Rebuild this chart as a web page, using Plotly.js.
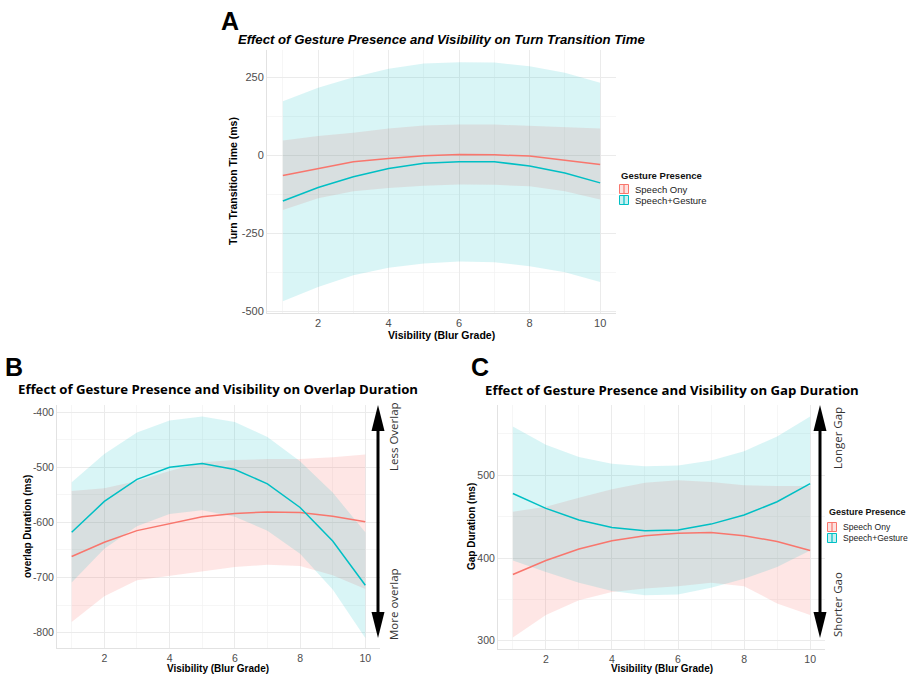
<!DOCTYPE html>
<html>
<head>
<meta charset="utf-8">
<script src="https://cdn.plot.ly/plotly-3.0.1.min.js"></script>
<style>
  html, body { margin: 0; padding: 0; background: #ffffff; }
  #chart { width: 912px; height: 675px; }
</style>
</head>
<body>
<div id="chart"></div>
<script>
// ---------------- DATA ----------------
const visibility = [1, 2, 3, 4, 5, 6, 7, 8, 9, 10];
const xTickVals = [2, 4, 6, 8, 10];
const groupNames = ["Speech Ony", "Speech+Gesture"];
const legendTitle = "Gesture Presence";

// Panel A: Turn Transition Time (ms)
const aSpeechMean = [-64, -42, -20, -10, -1, 3, 2, -2, -15, -29];
const aSpeechHigh = [48, 62, 73, 86, 96, 99, 99, 94, 90, 86];
const aSpeechLow  = [-175, -137, -115, -104, -97, -93, -94, -99, -115, -141];
const aGestMean   = [-146, -103, -68, -42, -25, -20, -20, -34, -56, -88];
const aGestHigh   = [174, 217, 251, 278, 295, 299, 298, 286, 265, 233];
const aGestLow    = [-467, -422, -384, -360, -346, -340, -342, -355, -374, -406];
const aYTicks     = [250, 0, -250, -500];

// Panel B: Overlap Duration (ms)
const bSpeechMean = [-662, -636, -615, -602, -590, -584, -581, -582, -589, -599];
const bSpeechHigh = [-543, -538, -525, -507, -491, -487, -485, -485, -482, -477];
const bSpeechLow  = [-781, -734, -705, -697, -689, -681, -677, -679, -696, -721];
const bGestMean   = [-618, -562, -522, -500, -493, -504, -530, -573, -634, -714];
const bGestHigh   = [-527, -476, -437, -415, -408, -418, -445, -489, -546, -618];
const bGestLow    = [-709, -648, -607, -585, -578, -590, -615, -657, -722, -810];
const bYTicks     = [-400, -500, -600, -700, -800];

// Panel C: Gap Duration (ms)
const cSpeechMean = [380, 397, 411, 421, 427, 430, 431, 427, 420, 409];
const cSpeechHigh = [456, 462, 473, 483, 491, 494, 492, 488, 487, 487];
const cSpeechLow  = [304, 331, 349, 359, 363, 366, 370, 366, 345, 331];
const cGestMean   = [478, 460, 446, 437, 433, 434, 441, 452, 468, 490];
const cGestHigh   = [559, 537, 522, 514, 511, 512, 518, 529, 547, 571];
const cGestLow    = [397, 383, 370, 360, 355, 356, 364, 375, 389, 409];
const cYTicks     = [300, 400, 500];

// ---------------- STYLE ----------------
const RED = "#F8766D", TEAL = "#00BFC4";
const RED_FILL = "rgba(248,118,109,0.18)", TEAL_FILL = "rgba(0,191,196,0.15)";
const groupColors = [RED, TEAL];
const groupKeyFills = ["rgba(248,118,109,0.22)", "rgba(0,191,196,0.22)"];
const W = 912, H = 675;
const px = x => x / W;
const py = y => 1 - y / H;

function band(name, xs, lo, hi, fill, xa, ya) {
  return {
    type: "scatter", mode: "lines", name: name,
    x: xs.concat(xs.slice().reverse()),
    y: hi.concat(lo.slice().reverse()),
    fill: "toself", fillcolor: fill,
    line: { width: 0 }, hoverinfo: "skip", showlegend: false,
    xaxis: xa, yaxis: ya
  };
}
function meanLine(name, xs, ys, color, xa, ya) {
  return {
    type: "scatter", mode: "lines", name: name, x: xs, y: ys,
    line: { color: color, width: 1.5 }, showlegend: false,
    xaxis: xa, yaxis: ya
  };
}

const traces = [
  band(groupNames[0], visibility, aSpeechLow, aSpeechHigh, RED_FILL, "x", "y"),
  band(groupNames[1], visibility, aGestLow, aGestHigh, TEAL_FILL, "x", "y"),
  meanLine(groupNames[0], visibility, aSpeechMean, RED, "x", "y"),
  meanLine(groupNames[1], visibility, aGestMean, TEAL, "x", "y"),

  band(groupNames[0], visibility, bSpeechLow, bSpeechHigh, RED_FILL, "x2", "y2"),
  band(groupNames[1], visibility, bGestLow, bGestHigh, TEAL_FILL, "x2", "y2"),
  meanLine(groupNames[0], visibility, bSpeechMean, RED, "x2", "y2"),
  meanLine(groupNames[1], visibility, bGestMean, TEAL, "x2", "y2"),

  band(groupNames[0], visibility, cSpeechLow, cSpeechHigh, RED_FILL, "x3", "y3"),
  band(groupNames[1], visibility, cGestLow, cGestHigh, TEAL_FILL, "x3", "y3"),
  meanLine(groupNames[0], visibility, cSpeechMean, RED, "x3", "y3"),
  meanLine(groupNames[1], visibility, cGestMean, TEAL, "x3", "y3")
];

const TICKFONT = { family: "Liberation Sans, Arial, sans-serif", size: 11, color: "#4d4d4d" };
function xAxis(domain, anchor, fontSize) {
  return {
    domain: domain, anchor: anchor, range: [0.55, 10.45],
    tickmode: "array", tickvals: xTickVals, ticktext: xTickVals.map(String),
    showgrid: true, gridcolor: "#ebebeb", gridwidth: 1,
    minor: { dtick: 1, tick0: 0, showgrid: true, gridcolor: "#f2f2f2", gridwidth: 0.7 },
    showline: true, linecolor: "#e2e2e2", linewidth: 1,
    zeroline: false, ticks: "", automargin: false,
    tickfont: Object.assign({}, TICKFONT, { size: fontSize }), fixedrange: true
  };
}
function yAxis(domain, anchor, range, ticks, minorStep, fontSize) {
  return {
    domain: domain, anchor: anchor, range: range,
    tickmode: "array", tickvals: ticks, ticktext: ticks.map(String),
    showgrid: true, gridcolor: "#ebebeb", gridwidth: 1,
    minor: { dtick: minorStep, tick0: 0, showgrid: true, gridcolor: "#f2f2f2", gridwidth: 0.7 },
    showline: true, linecolor: "#e2e2e2", linewidth: 1,
    zeroline: false, ticks: "", automargin: false,
    tickfont: Object.assign({}, TICKFONT, { size: fontSize }), fixedrange: true
  };
}

const AX_TITLE = { family: "Liberation Sans, Arial, sans-serif", size: 10.5, color: "#000000" };
const PANEL_TITLE = { family: "Open Sans, sans-serif", size: 13.2, color: "#000000" };
const SIDE_TEXT = { family: "Open Sans, sans-serif", size: 11.5, color: "#333333" };
const LETTER = { family: "Liberation Sans, Arial, sans-serif", size: 25, color: "#000000" };

function ann(text, x, y, font, extra) {
  return Object.assign({
    text: text, x: px(x), y: py(y), xref: "paper", yref: "paper",
    showarrow: false, xanchor: "center", yanchor: "middle", font: font
  }, extra || {});
}

const annotations = [
  ann("<b>A</b>", 230, 21, LETTER),
  ann("<b>B</b>", 14, 367, LETTER),
  ann("<b>C</b>", 480, 367, LETTER),
  ann("<b><i>Effect of Gesture Presence and Visibility on Turn Transition Time</i></b>", 441, 39,
      { family: "Liberation Sans, Arial, sans-serif", size: 13.2, color: "#000000" }),
  ann("<b>Effect of Gesture Presence and Visibility on Overlap Duration</b>", 218, 389, PANEL_TITLE),
  ann("<b>Effect of Gesture Presence and Visibility on Gap Duration</b>", 672, 390, PANEL_TITLE),
  // axis titles
  ann("<b>Visibility (Blur Grade)</b>", 441, 335, AX_TITLE),
  ann("<b>Turn Transition Time (ms)</b>", 233, 181, AX_TITLE, { textangle: -90 }),
  ann("<b>Visibility (Blur Grade)</b>", 218, 668, Object.assign({}, AX_TITLE, { size: 10 })),
  ann("<b>overlap Duration (ms)</b>", 27, 527, Object.assign({}, AX_TITLE, { size: 10 }), { textangle: -90 }),
  ann("<b>Visibility (Blur Grade)</b>", 662, 668, Object.assign({}, AX_TITLE, { size: 10 })),
  ann("<b>Gap Duration (ms)</b>", 471, 527, Object.assign({}, AX_TITLE, { size: 10 }), { textangle: -90 }),
  // arrow captions
  ann("Less Overlap", 393, 437, SIDE_TEXT, { textangle: -90 }),
  ann("More overlap", 393, 604, SIDE_TEXT, { textangle: -90 }),
  ann("Longer Gap", 837, 438, SIDE_TEXT, { textangle: -90 }),
  ann("Shorter Gao", 837, 605, SIDE_TEXT, { textangle: -90 })
];

const shapes = [];

function arrowShapes(x, yTop, yBot) {
  const hw = 6.5, hh = 26;
  return [
    { type: "line", xref: "paper", yref: "paper", x0: px(x), x1: px(x), y0: py(yTop + hh - 2), y1: py(yBot - hh + 2),
      line: { color: "#000000", width: 3 } },
    { type: "path", xref: "paper", yref: "paper",
      path: `M ${px(x)} ${py(yTop)} L ${px(x - hw)} ${py(yTop + hh)} L ${px(x + hw)} ${py(yTop + hh)} Z`,
      fillcolor: "#000000", line: { width: 0 } },
    { type: "path", xref: "paper", yref: "paper",
      path: `M ${px(x)} ${py(yBot)} L ${px(x - hw)} ${py(yBot - hh)} L ${px(x + hw)} ${py(yBot - hh)} Z`,
      fillcolor: "#000000", line: { width: 0 } }
  ];
}

// ggplot-style legend block: title + boxed keys with a center stroke
function legendBlock(left, titleY, firstY, step, titleSize, textSize) {
  annotations.push(ann("<b>" + legendTitle + "</b>", left, titleY,
    { family: "Liberation Sans, Arial, sans-serif", size: titleSize, color: "#111111" },
    { xanchor: "left" }));
  groupNames.forEach((g, i) => {
    const cy = firstY + i * step;
    shapes.push({ type: "rect", xref: "paper", yref: "paper",
      x0: px(left + 0.5), x1: px(left + 9.5), y0: py(cy + 4.5), y1: py(cy - 4.5),
      fillcolor: groupKeyFills[i], line: { color: groupColors[i], width: 1 } });
    shapes.push({ type: "line", xref: "paper", yref: "paper",
      x0: px(left + 5), x1: px(left + 5), y0: py(cy + 4.5), y1: py(cy - 4.5),
      line: { color: groupColors[i], width: 1.2 } });
    annotations.push(ann(g, left + 14, cy,
      { family: "Liberation Sans, Arial, sans-serif", size: textSize, color: "#222222" },
      { xanchor: "left" }));
  });
}
legendBlock(619, 175, 189, 11, 9.5, 9.5);
legendBlock(827, 512, 527, 11, 9, 8.6);

const layout = {
  width: W, height: H,
  margin: { l: 0, r: 0, t: 0, b: 0, pad: 0, autoexpand: false },
  paper_bgcolor: "#ffffff", plot_bgcolor: "#ffffff",
  xaxis: xAxis([px(267), px(616)], "y", 11),
  yaxis: yAxis([py(313), py(50)], "x", [-505, 338], aYTicks, 125, 11),
  xaxis2: xAxis([px(57), px(380)], "y2", 10.5),
  yaxis2: yAxis([py(648), py(405)], "x2", [-828, -387], bYTicks, 50, 10.5),
  xaxis3: xAxis([px(498), px(825)], "y3", 10.5),
  yaxis3: yAxis([py(649), py(405)], "x3", [290, 585], cYTicks, 50, 10.5),
  showlegend: false,
  annotations: annotations,
  shapes: shapes.concat(arrowShapes(378, 405, 638), arrowShapes(820, 405, 638))
};

Plotly.newPlot("chart", traces, layout, { displayModeBar: false, staticPlot: true });
</script>
</body>
</html>
